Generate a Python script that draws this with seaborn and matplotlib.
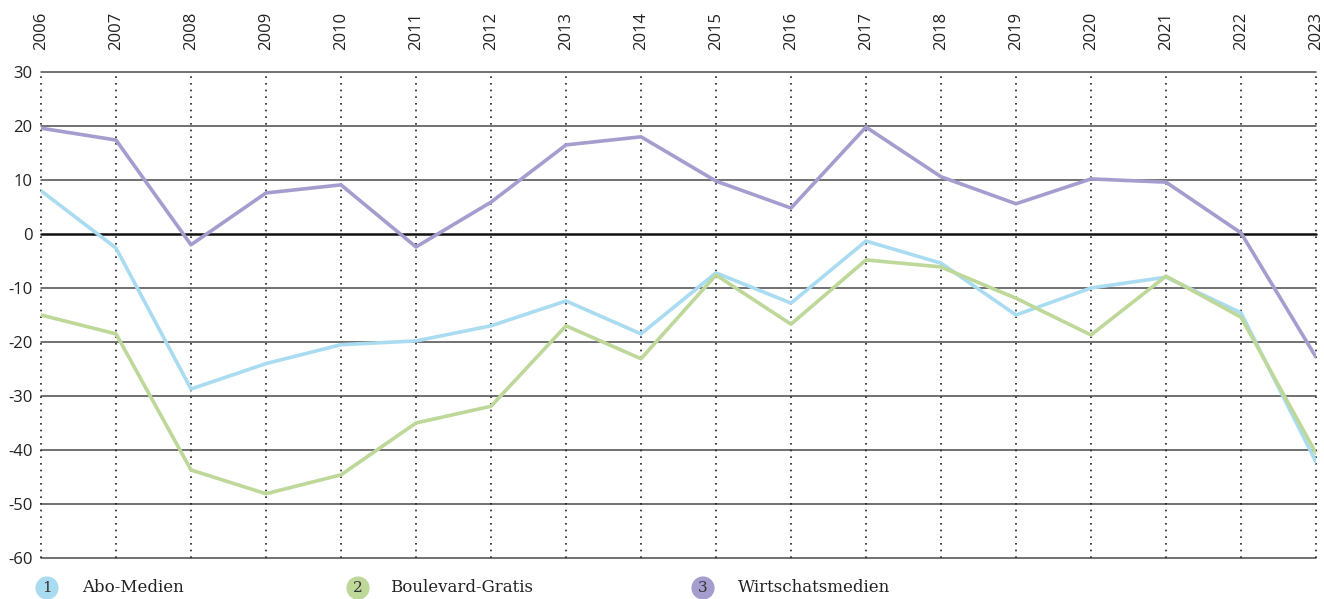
import matplotlib
matplotlib.use("Agg")
import matplotlib.pyplot as plt
import seaborn as sns
import pandas as pd

years = list(range(2006, 2024))
abo_medien = [8.0, -2.6, -28.7, -24.0, -20.5, -19.8, -17.0, -12.4, -18.5, -7.2,
              -12.8, -1.3, -5.4, -15.0, -10.0, -8.0, -14.6, -42.2]
boulevard_gratis = [-15.0, -18.5, -43.7, -48.1, -44.6, -35.0, -31.9, -17.0, -23.1, -7.6,
                    -16.7, -4.8, -6.1, -11.9, -18.7, -7.8, -15.4, -40.6]
wirtschaftsmedien = [19.6, 17.4, -2.0, 7.6, 9.1, -2.4, 5.9, 16.5, 18.0, 9.8,
                     4.8, 19.8, 10.6, 5.6, 10.2, 9.6, 0.2, -22.8]
series_names = ["Abo-Medien", "Boulevard-Gratis", "Wirtschatsmedien"]
colors = ["#a9dcf0", "#bdd899", "#a69dcf"]
y_ticks = [30, 20, 10, 0, -10, -20, -30, -40, -50, -60]

df = pd.DataFrame({
    "year": years * 3,
    "value": abo_medien + boulevard_gratis + wirtschaftsmedien,
    "series": sum([[n] * len(years) for n in series_names], []),
})

sns.set_style("white")
plt.rcParams["font.family"] = ["Open Sans", "DejaVu Sans"]

fig = plt.figure(figsize=(13.24, 5.99), dpi=100)
ax = fig.add_axes([41 / 1324, 1 - 558 / 599, (1316 - 41) / 1324, (558 - 72) / 599])

# grid first
for v in y_ticks:
    if v == 0:
        ax.axhline(v, color="#111111", lw=1.8, zorder=1, clip_on=False)
    else:
        ax.axhline(v, color="#4a4a4a", lw=1.1, zorder=1, clip_on=False)
for yr in years:
    ax.axvline(yr, color="#222222", lw=1.2, ls=(0, (1, 3)), zorder=1, clip_on=False)

sns.lineplot(data=df, x="year", y="value", hue="series", palette=colors,
             hue_order=series_names, linewidth=2.6, legend=False, ax=ax, zorder=3)

ax.set_xlim(years[0], years[-1])
ax.set_ylim(-60, 30)
ax.set_yticks(y_ticks)
ax.set_yticklabels([str(v) for v in y_ticks], fontsize=12, color="#222222")
ax.set_xticks(years)
ax.set_xticklabels([str(y) for y in years], rotation=90, fontsize=12, color="#222222")
ax.xaxis.tick_top()
ax.tick_params(axis="x", length=0, pad=16)
ax.tick_params(axis="y", length=0, pad=6)
ax.set_xlabel("")
ax.set_ylabel("")
for s in ax.spines.values():
    s.set_visible(False)

# legend with numbered circles
legend_x = [47, 358, 703]
text_x = [82, 390, 738]
for i, name in enumerate(series_names):
    fig.text(legend_x[i] / 1324, 1 - 588 / 599, str(i + 1), ha="center", va="center",
             fontsize=11, family="DejaVu Serif", color="#333333",
             bbox=dict(boxstyle="circle,pad=0.3", fc=colors[i], ec="none"))
    fig.text(text_x[i] / 1324, 1 - 588 / 599, name, ha="left", va="center",
             fontsize=12, family="DejaVu Serif", color="#222222")

fig.savefig("out.png", dpi=100)
